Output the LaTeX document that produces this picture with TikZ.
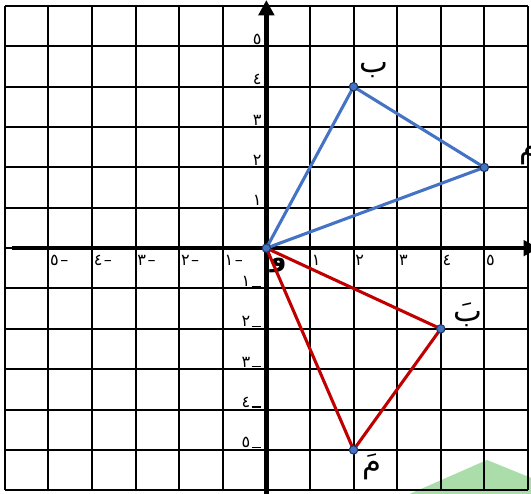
\documentclass[tikz,border=0pt]{standalone}
\usepackage{fontspec}
\usepackage{tikz}
\usetikzlibrary{arrows.meta}
\newfontfamily\arabicfont[Script=Arabic]{DejaVu Sans}
\definecolor{triBlue}{RGB}{68,114,196}
\definecolor{triRed}{RGB}{192,0,0}
\definecolor{dotEdge}{RGB}{31,56,100}
\definecolor{wmGreen}{RGB}{170,221,170}
\newcommand{\lowdash}{\kern0.8pt\rule[0pt]{6.5pt}{0.7pt}}
\tikzset{
  gridline/.style={black,line width=1.3pt},
  axisline/.style={black,line width=2.8pt,-{Triangle[length=10pt,width=10pt]}},
  vdot/.style={circle,fill=triBlue,draw=dotEdge,line width=0.7pt,inner sep=0pt,minimum size=5.5pt},
  ticklbl/.style={font=\arabicfont\fontsize{10.5}{12}\selectfont,inner sep=1pt},
  ptlbl/.style={font=\arabicfont\fontsize{20}{22}\selectfont,inner sep=0pt},
  originlbl/.style={font=\arabicfont\fontsize{17}{19}\selectfont\bfseries,inner sep=0pt},
}

\begin{document}
\begin{tikzpicture}[x=1cm,y=0.9255cm]
  \useasboundingbox (-6.11,-6.09) rectangle (6.07,6.15);
  \clip (-6.11,-6.09) rectangle (6.07,6.15);
  \fill[white] (-6.11,-6.09) rectangle (6.07,6.15);

  % green patch, bottom right
  \fill[wmGreen] (3.06,-6.2) -- (5.06,-5.25) -- (6.2,-5.75) -- (6.2,-6.2) -- cycle;

  % Grid
  \foreach \k in {-6,...,6}{
    \draw[gridline] (\k,-6) -- (\k,6);
    \draw[gridline] (-6,\k) -- (6,\k);
  }

  % Axes
  \coordinate (xStart) at (-5.84,0);
  \coordinate (xEnd) at (6.25,0);
  \coordinate (yStart) at (0,-6.3);
  \coordinate (yEnd) at (0,6.15);
  \draw[axisline] (xStart) -- (xEnd);
  \draw[axisline] (yStart) -- (yEnd);

  % Tick labels
  \foreach \n/\d in {1/١,2/٢,3/٣,4/٤,5/٥}{
    \node[ticklbl,anchor=north west] (xp\n) at (\n,-0.14) {\d};
    \node[ticklbl,anchor=north west] (xn\n) at (-\n,-0.14) {\d\kern1pt–};
    \node[ticklbl,anchor=south east] (yp\n) at (-0.07,\n) {\d};
    \node[ticklbl,anchor=south east] (yn\n) at (-0.07,-\n) {\d\lowdash};
  }
  \node[originlbl] (lblO) at (0.28,-0.42) {و};

  % Vertices
  \coordinate (O) at (0,0);
  \coordinate (A) at (5,2);
  \coordinate (B) at (2,4);
  \coordinate (Ar) at (2,-5);
  \coordinate (Br) at (4,-2);

  % Original and rotated triangles
  \draw[triBlue,line width=2pt,line join=round] (O) -- (B) -- (A) -- cycle;
  \draw[triRed,line width=2pt,line join=round] (O) -- (Br) -- (Ar) -- cycle;

  \foreach \p in {O,A,B,Ar,Br}
    \node[vdot] (dot\p) at (\p) {};

  % Point labels
  \node[ptlbl] (lblB) at (2.46,4.4) {ب};
  \node[ptlbl] (lblA) at (6.02,2.3) {م};
  \node[ptlbl] (lblBr) at (4.62,-1.66) {بَ};
  \node[ptlbl] (lblAr) at (2.42,-5.42) {مَ};
\end{tikzpicture}
\end{document}
